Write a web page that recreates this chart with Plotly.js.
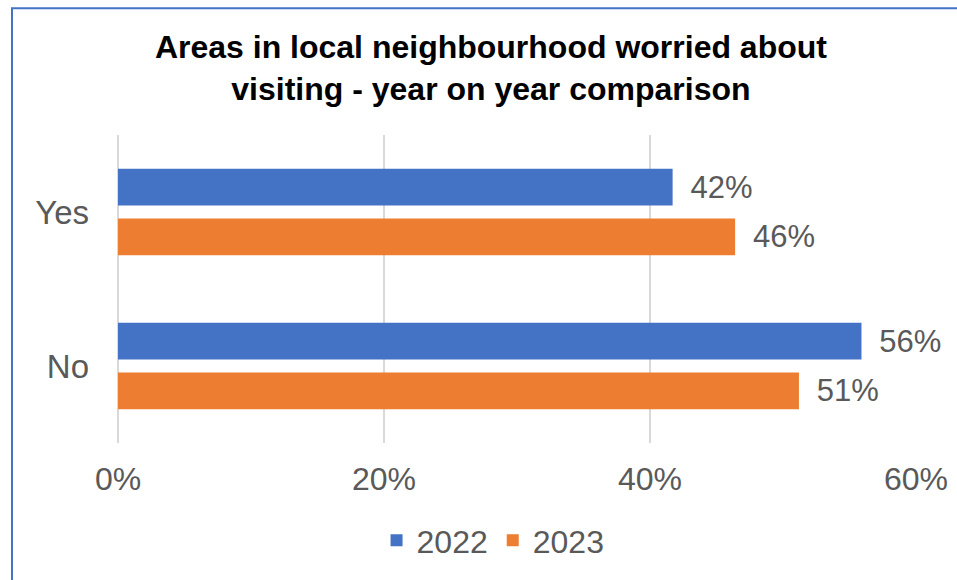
<!DOCTYPE html>
<html>
<head>
<meta charset="utf-8">
<script src="https://cdn.plot.ly/plotly-3.0.1.min.js"></script>
<style>
  html, body { margin: 0; padding: 0; background: #ffffff; }
  #chart { width: 957px; height: 580px; }
</style>
</head>
<body>
<div id="chart"></div>
<script>
const categories = ["Yes", "No"];
const seriesNames = ["2022", "2023"];
const values2022 = [0.417, 0.559];
const values2023 = [0.464, 0.512];
const xTickValues = [0, 0.2, 0.4, 0.6];
const titleText = "Areas in local neighbourhood worried about<br>visiting - year on year comparison";

const colors = ["#4472C4", "#ED7D31"];
const labelPrefix = "\u00a0\u2009";
const fontFamily = "Liberation Sans, Arial, sans-serif";

function barTrace(name, vals, color) {
  return {
    type: "bar",
    orientation: "h",
    name: name,
    y: categories,
    x: vals,
    marker: { color: color },
    text: vals.map(v => labelPrefix + Math.round(v * 100) + "%"),
    textposition: "outside",
    textfont: { family: fontFamily, size: 31, color: "#595959" },
    cliponaxis: false,
    hoverinfo: "skip"
  };
}

const data = [
  barTrace(seriesNames[0], values2022, colors[0]),
  barTrace(seriesNames[1], values2023, colors[1])
];

const layout = {
  width: 957,
  height: 580,
  paper_bgcolor: "#ffffff",
  plot_bgcolor: "#ffffff",
  margin: { l: 118, r: 41, t: 135, b: 134, pad: 0 },
  font: { family: fontFamily, color: "#595959", size: 31 },
  title: {
    text: titleText,
    font: { family: fontFamily, size: 32, color: "#000000", weight: "bold" },
    x: 0.513,
    xanchor: "center",
    y: 0.9,
    yanchor: "middle"
  },
  barmode: "group",
  bargap: 0.355,
  bargroupgap: 0.26,
  xaxis: {
    range: [0, 0.6],
    tickvals: xTickValues,
    tickformat: ".0%",
    showgrid: true,
    gridcolor: "#d9d9d9",
    gridwidth: 2,
    zeroline: true,
    zerolinecolor: "#d9d9d9",
    zerolinewidth: 2,
    showline: false,
    ticks: "",
    ticklabelstandoff: 14,
    tickfont: { family: fontFamily, size: 32, color: "#595959" },
    fixedrange: true
  },
  yaxis: {
    type: "category",
    autorange: "reversed",
    showgrid: false,
    zeroline: false,
    showline: false,
    ticks: "",
    ticklabelstandoff: 28,
    tickfont: { family: fontFamily, size: 33, color: "#595959" },
    fixedrange: true
  },
  showlegend: true,
  legend: {
    orientation: "h",
    x: 0.47,
    xanchor: "center",
    y: -0.316,
    yanchor: "middle",
    font: { family: fontFamily, size: 32, color: "#595959" },
    itemwidth: 30,
    traceorder: "normal"
  },
  shapes: [
    {
      type: "rect",
      xref: "paper", yref: "paper",
      x0: (12 - 118) / 798, x1: 2,
      y0: -2, y1: (446 - 7) / 311,
      line: { color: "#4472C4", width: 2 },
      fillcolor: "rgba(0,0,0,0)",
      layer: "below"
    }
  ]
};

Plotly.newPlot("chart", data, layout, { displayModeBar: false, staticPlot: true });
</script>
</body>
</html>
